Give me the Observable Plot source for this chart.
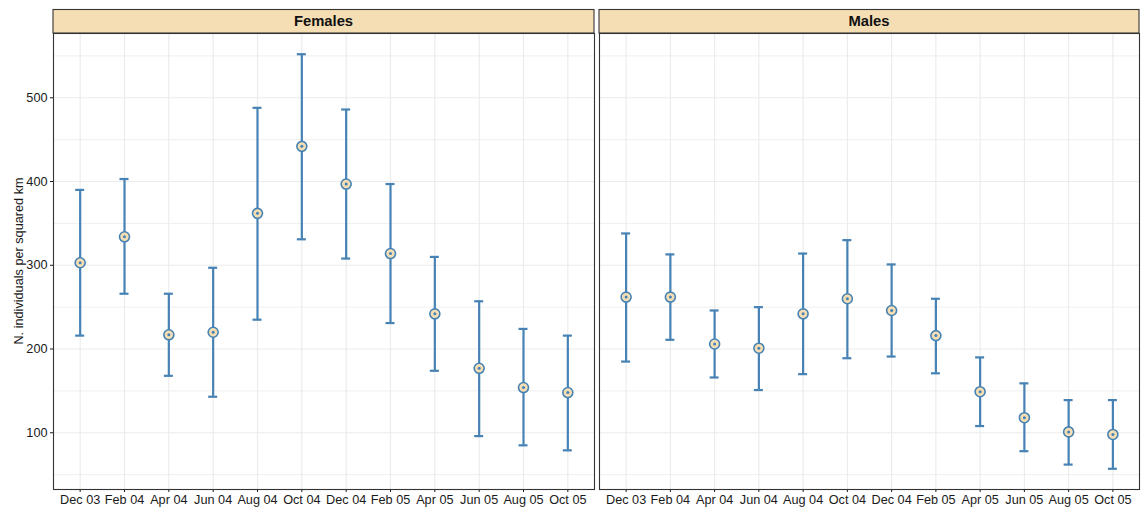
<!DOCTYPE html>
<html>
<head>
<meta charset="utf-8">
<script src="https://cdn.jsdelivr.net/npm/d3@7"></script>
<script src="https://cdn.jsdelivr.net/npm/@observablehq/plot@0.6"></script>
<style>
  body { margin: 0; background: #fff; font-family: "Liberation Sans", Arial, Helvetica, sans-serif; }
  #chart { position: relative; width: 1142px; height: 508px; }
  #chart > .panel { position: absolute; top: 0; }
  #ytitle { position: absolute; left: 18.5px; top: 261px; transform: translate(-50%, -50%) rotate(-90deg);
            white-space: nowrap; font-size: 12.7px; color: #1a1a1a; }
</style>
</head>
<body>
<div id="chart"></div>
<script>
// ---- data ----
const months = ["Dec 03", "Feb 04", "Apr 04", "Jun 04", "Aug 04", "Oct 04",
                "Dec 04", "Feb 05", "Apr 05", "Jun 05", "Aug 05", "Oct 05"];
const panels = ["Females", "Males"];

const femaleMean  = [303, 334, 217, 220, 362, 442, 397, 314, 242, 177, 154, 148];
const femaleLower = [216, 266, 168, 143, 235, 331, 308, 231, 174, 96, 85, 79];
const femaleUpper = [390, 403, 266, 297, 488, 552, 486, 397, 310, 257, 224, 216];

const maleMean  = [262, 262, 206, 201, 242, 260, 246, 216, 149, 118, 101, 98];
const maleLower = [185, 211, 166, 151, 170, 189, 191, 171, 108, 78, 62, 57];
const maleUpper = [338, 313, 246, 250, 314, 330, 301, 260, 190, 159, 139, 139];

const majorTicks = [100, 200, 300, 400, 500];
const minorTicks = [50, 150, 250, 350, 450, 550];
const yTitle = "N. individuals per squared km";

// ---- build tables ----
const series = {
  Females: months.map((m, i) => ({month: m, mean: femaleMean[i], lower: femaleLower[i], upper: femaleUpper[i]})),
  Males:   months.map((m, i) => ({month: m, mean: maleMean[i],   lower: maleLower[i],   upper: maleUpper[i]}))
};

// y domain like ggplot: data range expanded by 5% on each side
const allVals = [...femaleLower, ...femaleUpper, ...maleLower, ...maleUpper];
const [lo, hi] = d3.extent(allVals);
const pad = (hi - lo) * 0.05;
const yDomain = [lo - pad, hi + pad];

const STEEL = "#4682b4";
const WHEAT = "#f5deb3";
const GRID = "#ebebeb";
const DARK = "#333333";
const H = 508, MT = 33, MB = 19, STRIP = 23.5;

function strip(label) {
  return (index, scales, values, dims) => {
    const g = d3.create("svg:g");
    const x0 = dims.marginLeft, w = dims.width - dims.marginLeft - dims.marginRight;
    g.append("rect")
      .attr("x", x0).attr("y", dims.marginTop - STRIP)
      .attr("width", w).attr("height", STRIP)
      .attr("fill", WHEAT).attr("stroke", DARK).attr("stroke-width", 1.1);
    g.append("text")
      .attr("x", x0 + w / 2).attr("y", dims.marginTop - STRIP / 2)
      .attr("dy", "0.35em").attr("text-anchor", "middle")
      .attr("font-weight", "bold").attr("font-size", "14.8px").attr("fill", "#111")
      .text(label);
    return g.node();
  };
}

function panel(name, opts) {
  const data = series[name];
  return Plot.plot({
    width: opts.width,
    height: H,
    marginLeft: opts.ml,
    marginRight: opts.mr,
    marginTop: MT,
    marginBottom: MB,
    style: {fontFamily: '"Liberation Sans", Arial, sans-serif', fontSize: "12.7px", color: "#1a1a1a", background: "transparent", overflow: "visible"},
    x: {type: "band", domain: months, paddingInner: 0.797, paddingOuter: 0.5, round: false, tickSize: 3, tickPadding: 2, label: null},
    y: opts.yAxis
      ? {domain: yDomain, ticks: majorTicks, tickSize: 3, tickPadding: 3, label: null}
      : {domain: yDomain, axis: null},
    marks: [
      Plot.ruleY(minorTicks, {stroke: GRID, strokeWidth: 0.8}),
      Plot.ruleY(majorTicks, {stroke: GRID, strokeWidth: 1.1}),
      Plot.ruleX(months, {x: d => d, stroke: GRID, strokeWidth: 1.1}),
      Plot.ruleX(data, {x: "month", y1: "lower", y2: "upper", stroke: STEEL, strokeWidth: 2.2}),
      Plot.tickY(data, {x: "month", y: "lower", stroke: STEEL, strokeWidth: 2.2}),
      Plot.tickY(data, {x: "month", y: "upper", stroke: STEEL, strokeWidth: 2.2}),
      Plot.dot(data, {x: "month", y: "mean", r: 5, fill: WHEAT, stroke: STEEL, strokeWidth: 1.6}),
      Plot.dot(data, {x: "month", y: "mean", r: 1.5, fill: STEEL, stroke: "none"}),
      Plot.frame({stroke: DARK, strokeWidth: 1.1}),
      strip(name)
    ]
  });
}

const chart = document.getElementById("chart");
const layout = [
  {name: panels[0], left: 0,   width: 596, ml: 53, mr: 2, yAxis: true},
  {name: panels[1], left: 596, width: 546, ml: 3,  mr: 3, yAxis: false}
];
for (const L of layout) {
  const div = document.createElement("div");
  div.className = "panel";
  div.style.left = L.left + "px";
  div.appendChild(panel(L.name, L));
  chart.appendChild(div);
}
const yt = document.createElement("div");
yt.id = "ytitle";
yt.textContent = yTitle;
chart.appendChild(yt);
</script>
</body>
</html>
